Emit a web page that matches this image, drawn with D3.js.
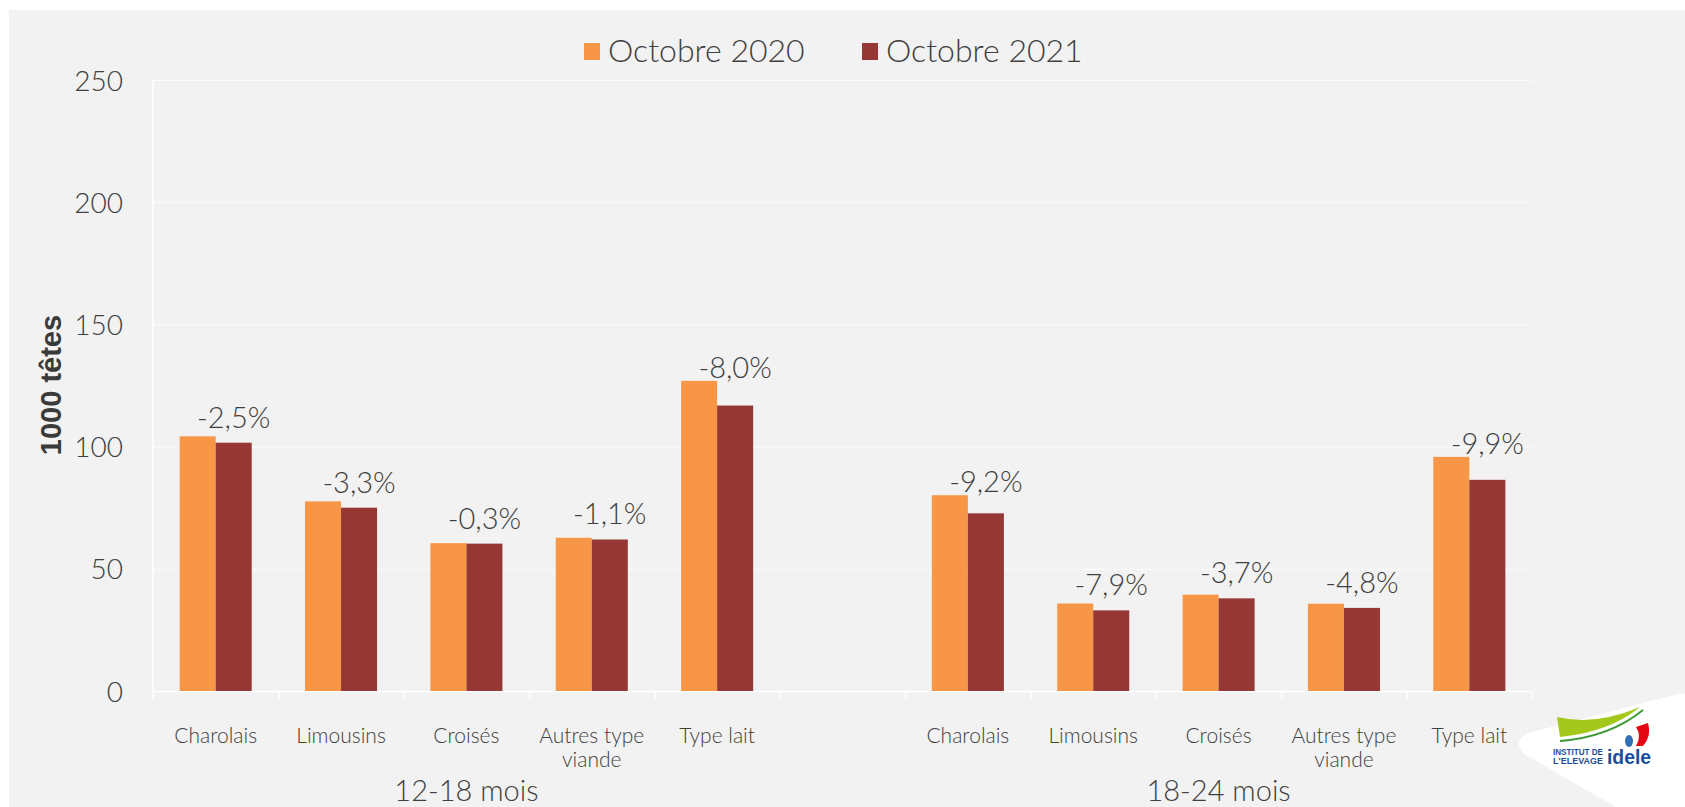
<!DOCTYPE html>
<html>
<head>
<meta charset="utf-8">
<script src="https://cdn.jsdelivr.net/npm/d3@7"></script>
<style>
  html, body { margin: 0; padding: 0; background: #fff; }
  svg { display: block; }
  text { font-family: Lato, "Open Sans", sans-serif; fill: #404040; }
</style>
</head>
<body>
<svg width="1685" height="807"></svg>
<script>
// categories (the empty slot keeps the gap between the two age groups)
let groups = ["12-18 mois", "18-24 mois"]
let breeds = ["Charolais", "Limousins", "Croisés", "Autres type viande", "Type lait"]
let series = ["Octobre 2020", "Octobre 2021"]
let colors = ["#F79646", "#953735"]

// 1000 têtes
let oct2020 = [104.2, 77.6, 60.5, 62.7, 126.9, 80.1, 35.8, 39.4, 35.7, 95.8]
let oct2021 = [101.6, 75.0, 60.3, 62.0, 116.8, 72.7, 33.0, 37.9, 34.0, 86.4]
let changes = [-2.5, -3.3, -0.3, -1.1, -8.0, -9.2, -7.9, -3.7, -4.8, -9.9]

let yTicks = [0, 50, 100, 150, 200, 250]

// build the slots: 5 breeds, a blank, 5 breeds
let slots = []
let data = []
groups.forEach(function (g, gi) {
    breeds.forEach(function (b, bi) {
        let k = gi * breeds.length + bi
        slots.push(g + "|" + b)
        data.push({ key: g + "|" + b, group: g, breed: b, v0: oct2020[k], v1: oct2021[k], pct: changes[k] })
    })
    if (gi < groups.length - 1) slots.push("blank" + gi)
})

var svg = d3.select("svg")

svg.append("rect")
    .attr("x", 9).attr("y", 10)
    .attr("width", 1685 - 9).attr("height", 807 - 10)
    .attr("fill", "#f2f2f2")

var plotLeft = 153, plotRight = 1532, plotTop = 80, plotBottom = 691
var fw = 300 // text weight

var x = d3.scaleBand().domain(slots).range([plotLeft, plotRight]).padding(0)
var x1 = d3.scaleBand().domain([0, 1]).range([0, x.bandwidth()]).paddingInner(0).paddingOuter(0.74)
var y = d3.scaleLinear().domain([0, 250]).range([plotBottom, plotTop])

// gridlines
svg.append("g")
    .attr("transform", "translate(" + plotLeft + ",0)")
    .call(d3.axisLeft(y).tickValues(yTicks.slice(1)).tickSize(-(plotRight - plotLeft)).tickFormat(""))
    .call(g => g.select(".domain").remove())
    .selectAll("line")
    .attr("stroke", "#ffffff")
    .attr("stroke-width", 1)
    .attr("stroke-dasharray", "3,1")

// y labels
svg.append("g")
    .attr("transform", "translate(" + (plotLeft - 30) + ",0)")
    .call(d3.axisLeft(y).tickValues(yTicks).tickSize(0).tickPadding(0))
    .call(g => g.select(".domain").remove())
    .selectAll("text")
    .attr("dy", "0.36em")
    .style("font-family", "Lato, sans-serif")
    .style("font-weight", fw)
    .style("font-size", "28px")
    .attr("fill", "#404040")

// left axis line
svg.append("line")
    .attr("x1", plotLeft).attr("x2", plotLeft)
    .attr("y1", plotTop).attr("y2", plotBottom + 8)
    .attr("stroke", "#ffffff").attr("stroke-width", 1.5)

// bottom axis with ticks on slot boundaries
var xb = d3.scaleLinear().domain([0, slots.length]).range([plotLeft, plotRight])
svg.append("g")
    .attr("transform", "translate(0," + plotBottom + ")")
    .call(d3.axisBottom(xb).tickValues(d3.range(0, slots.length + 1)).tickSize(8).tickSizeOuter(0).tickFormat(""))
    .call(g => g.select(".domain").attr("stroke", "#ffffff").attr("stroke-width", 1.5))
    .selectAll("line").attr("stroke", "#ffffff").attr("stroke-width", 1.5)

// bars
var cat = svg.selectAll(".cat")
    .data(data)
    .enter().append("g")
    .attr("class", "cat")
    .attr("transform", d => "translate(" + x(d.key) + ",0)")

cat.append("rect")
    .attr("x", x1(0))
    .attr("y", d => y(d.v0))
    .attr("width", x1.bandwidth())
    .attr("height", d => plotBottom - y(d.v0))
    .attr("fill", colors[0])

cat.append("rect")
    .attr("x", x1(1))
    .attr("y", d => y(d.v1))
    .attr("width", x1.bandwidth())
    .attr("height", d => plotBottom - y(d.v1))
    .attr("fill", colors[1])

// variation labels above the 2021 bar, kept clear of the taller 2020 bar
cat.append("text")
    .attr("x", x1(1) + x1.bandwidth() / 2)
    .attr("y", d => Math.min(y(d.v1) - 15, y(d.v0) - 3))
    .attr("text-anchor", "middle")
    .style("font-size", "29px")
    .style("font-weight", fw)
    .text(d => d.pct.toFixed(1).replace(".", ",") + "%")

// category labels, wrapped
cat.append("text")
    .attr("text-anchor", "middle")
    .style("font-size", "21px")
    .style("font-weight", fw)
    .each(function (d) {
        let words = d.breed === "Autres type viande" ? ["Autres type", "viande"] : [d.breed]
        let t = d3.select(this)
        words.forEach(function (w, i) {
            t.append("tspan")
                .attr("x", x.bandwidth() / 2)
                .attr("y", 743 + i * 23.5)
                .text(w)
        })
    })

// group labels
groups.forEach(function (g) {
    let keys = slots.filter(s => s.indexOf(g + "|") === 0)
    let cx = (x(keys[0]) + x(keys[keys.length - 1]) + x.bandwidth()) / 2
    svg.append("text")
        .attr("x", cx)
        .attr("y", 801)
        .attr("text-anchor", "middle")
        .style("font-size", "29px")
        .style("font-weight", fw)
        .text(g)
})

// axis title
svg.append("text")
    .attr("transform", "translate(61,385) rotate(-90)")
    .attr("text-anchor", "middle")
    .style("font-family", "'Liberation Sans', Arial, sans-serif")
    .style("font-weight", "bold")
    .style("font-size", "29px")
    .style("fill", "#3a3a3a")
    .text("1000 têtes")

// legend
var legX = [584, 862]
series.forEach(function (s, i) {
    svg.append("rect")
        .attr("x", legX[i]).attr("y", 43)
        .attr("width", 16).attr("height", 17)
        .attr("fill", colors[i])
    svg.append("text")
        .attr("x", legX[i] + 24).attr("y", 62)
        .style("font-size", "32px")
        .style("font-weight", fw)
        .text(s)
})

// idele logo, bottom right
var logo = svg.append("g")
logo.append("path")
    .attr("d", "M1528,733 Q1512,742 1524,754 L1630,815 L1700,815 L1700,700 Q1692,690 1670,696 Z")
    .attr("fill", "#ffffff")
logo.append("path")
    .attr("d", "M1557,717 Q1595,726 1640,707 Q1610,732 1560,737 Z")
    .attr("fill", "#a5c81c")
logo.append("path")
    .attr("d", "M1560,741 Q1610,737 1643,710")
    .attr("fill", "none").attr("stroke", "#3b9a35").attr("stroke-width", 2)
logo.append("ellipse")
    .attr("cx", 1629).attr("cy", 741).attr("rx", 4).attr("ry", 6)
    .attr("fill", "#2f6fb7")
logo.append("path")
    .attr("d", "M1636,727 L1648,723 Q1652,736 1643,746 L1636,746 Q1642,736 1636,727 Z")
    .attr("fill", "#e30613")
logo.append("text")
    .attr("x", 1553).attr("y", 755)
    .attr("textLength", 50).attr("lengthAdjust", "spacingAndGlyphs")
    .style("font-family", "'Liberation Sans Narrow', 'Liberation Sans', sans-serif")
    .style("font-weight", "bold").style("font-size", "9px")
    .style("fill", "#1b4f9c")
    .text("INSTITUT DE")
logo.append("text")
    .attr("x", 1553).attr("y", 764)
    .attr("textLength", 50).attr("lengthAdjust", "spacingAndGlyphs")
    .style("font-family", "'Liberation Sans Narrow', 'Liberation Sans', sans-serif")
    .style("font-weight", "bold").style("font-size", "9px")
    .style("fill", "#1b4f9c")
    .text("L'ELEVAGE")
logo.append("text")
    .attr("x", 1607).attr("y", 764)
    .attr("textLength", 44).attr("lengthAdjust", "spacingAndGlyphs")
    .style("font-family", "'Liberation Sans', sans-serif")
    .style("font-weight", "bold").style("font-size", "20px")
    .style("fill", "#1b4f9c")
    .text("idele")
</script>
</body>
</html>
